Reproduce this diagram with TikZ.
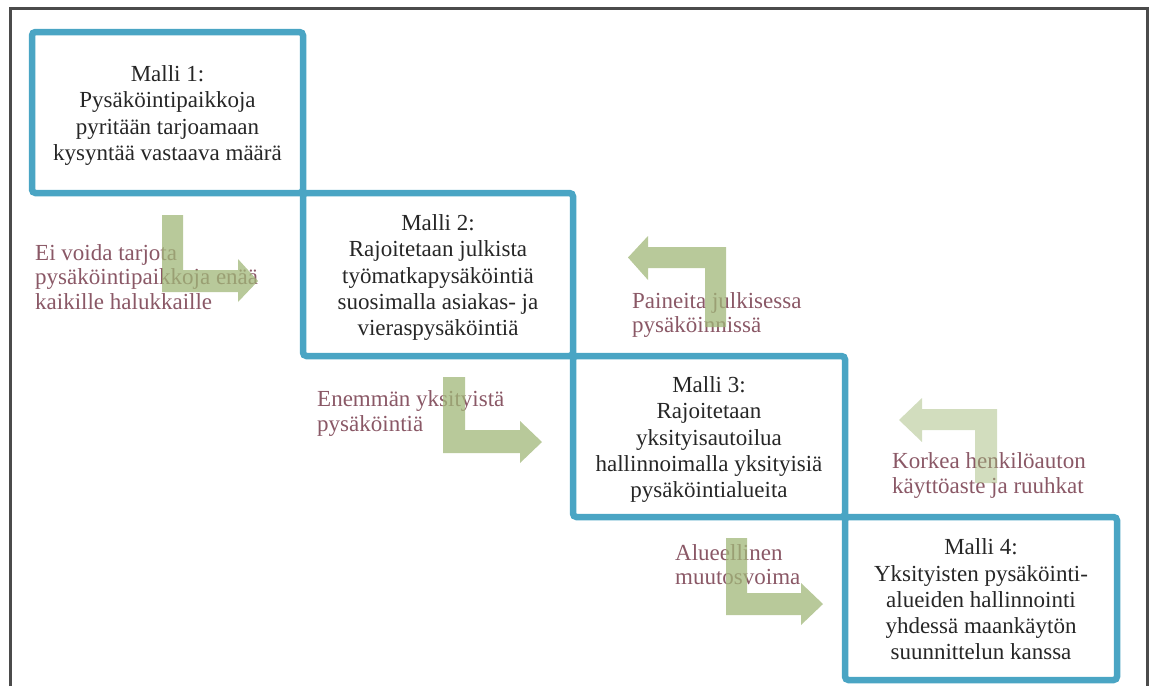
\documentclass[tikz,border=0pt]{standalone}
\usepackage{fontspec}
\setmainfont{Liberation Serif}
\definecolor{boxblue}{RGB}{74,165,196}
\definecolor{arrowgreen}{RGB}{160,183,120}
\definecolor{labelrose}{RGB}{138,88,102}
\definecolor{framegray}{RGB}{75,75,75}
\definecolor{textdark}{RGB}{38,38,38}
\tikzset{
  modelbox/.style={draw=boxblue, line width=6.5pt, rounded corners=3.5pt, inner sep=0pt, outer sep=0pt},
  modeltext/.style={align=center, text=textdark, inner sep=0pt, font=\fontsize{23}{26.3}\selectfont},
  labeltext/.style={align=left, text=labelrose, inner sep=0pt, anchor=west, font=\fontsize{23}{24.5}\selectfont},
  greenarrow/.style={fill=arrowgreen, fill opacity=0.75, draw=none},
  palearrow/.style={fill=arrowgreen, fill opacity=0.48, draw=none},
  frameline/.style={draw=framegray, line width=3pt}
}
\begin{document}
\begin{tikzpicture}[x=1pt,y=-1pt]
\useasboundingbox (0,0) rectangle (1150,686);
% outer frame
\coordinate (fbl) at (10,686);
\coordinate (ftl) at (10,8);
\coordinate (ftr) at (1147,8);
\coordinate (fbr) at (1147,686);
\draw[frameline] (fbl) -- (ftl) -- (ftr) -- (fbr);
% model boxes
\node[modelbox, minimum width=271pt, minimum height=161pt] (m1) at (167.5,112.5) {};
\node[modelbox, minimum width=270pt, minimum height=163pt] (m2) at (438,274.5) {};
\node[modelbox, minimum width=272pt, minimum height=161pt] (m3) at (709,436.5) {};
\node[modelbox, minimum width=272pt, minimum height=163pt] (m4) at (981,598.5) {};
% box texts
\node[modeltext] (t1) at ([yshift=-3pt]m1.center) {Malli 1:\\Pysäköintipaikkoja\\pyritään tarjoamaan\\kysyntää vastaava määrä};
\node[modeltext] (t2) at ([yshift=-3pt]m2.center) {Malli 2:\\Rajoitetaan julkista\\työmatkapysäköintiä\\suosimalla asiakas- ja\\vieraspysäköintiä};
\node[modeltext] (t3) at ([yshift=-3pt]m3.center) {Malli 3:\\Rajoitetaan\\yksityisautoilua\\hallinnoimalla yksityisiä\\pysäköintialueita};
\node[modeltext] (t4) at ([yshift=-1pt]m4.center) {Malli 4:\\Yksityisten pysäköinti-\\alueiden hallinnointi\\yhdessä maankäytön\\suunnittelun kanssa};
% labels
\node[labeltext] (l1) at (35,277) {Ei voida tarjota\\pysäköintipaikkoja enää\\kaikille halukkaille};
\node[labeltext] (l2) at (632,315) {Paineita julkisessa\\pysäköinnissä};
\node[labeltext] (l3) at (317,413.5) {Enemmän yksityistä\\pysäköintiä};
\node[labeltext] (l4) at (892,475.5) {Korkea henkilöauton\\käyttöaste ja ruuhkat};
\node[labeltext] (l5) at (675,564.5) {Alueellinen\\muutosvoima};
% bent arrows
\fill[greenarrow] (162,215) -- (183,215) -- (183,270) -- (238,270) -- (238,259) -- (258,281) -- (238,302) -- (238,292) -- (162,292) -- cycle;
\fill[greenarrow] (443,377) -- (465,377) -- (465,430) -- (520,430) -- (520,421) -- (542,442) -- (520,463) -- (520,453) -- (443,453) -- cycle;
\fill[greenarrow] (726,538) -- (747,538) -- (747,593) -- (801,593) -- (801,583) -- (823,604) -- (801,625) -- (801,615) -- (726,615) -- cycle;
\fill[greenarrow] (726,327) -- (705,327) -- (705,268) -- (648,268) -- (648,280) -- (628,257.5) -- (648,236) -- (648,247) -- (726,247) -- cycle;
\fill[palearrow] (997,483) -- (975,483) -- (975,430) -- (922,430) -- (922,442) -- (899,420) -- (922,398) -- (922,409) -- (997,409) -- cycle;
\end{tikzpicture}
\end{document}
